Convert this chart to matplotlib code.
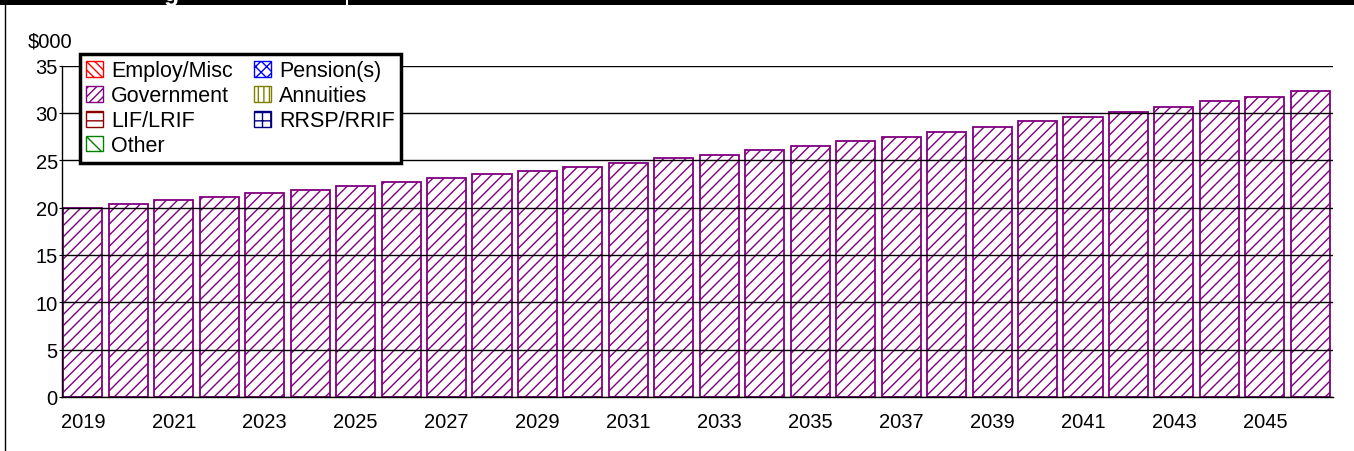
import numpy as np
import matplotlib.pyplot as plt
from matplotlib.patches import Patch, Rectangle
from matplotlib.lines import Line2D

plt.rcParams['font.family'] = ['Liberation Sans', 'DejaVu Sans']

# ---------------------------
# data ($000 per year)
# ---------------------------
years = list(range(2019, 2047))
government = [20.0, 20.4, 20.75, 21.1, 21.5, 21.9, 22.3, 22.7, 23.1, 23.5,
              23.9, 24.3, 24.7, 25.2, 25.6, 26.1, 26.5, 27.0, 27.5, 28.0,
              28.5, 29.1, 29.6, 30.1, 30.6, 31.2, 31.7, 32.3]
tick_years = [y for y in years if (y - 2019) % 2 == 0]

legend_labels = ['Employ/Misc', 'Government', 'LIF/LRIF', 'Other',
                 'Pension(s)', 'Annuities', 'RRSP/RRIF']
legend_colors = ['red', 'purple', 'darkred', 'green',
                 'blue', 'olive', 'navy']
legend_hatches = ['\\\\\\\\', '////', '--', '\\\\',
                  'xxx', '|||', '++']

W, H = 1354, 452
fig = plt.figure(figsize=(W / 100, H / 100), dpi=100)
ax = fig.add_axes([62 / W, 1 - 398 / H, (1333 - 62) / W, (398 - 66.5) / H])

x = np.arange(len(years))
ax.bar(x, government, width=0.86, color='white', edgecolor='purple',
       hatch='///', linewidth=1.3, zorder=1)

ax.set_xlim(-0.46, len(years) - 0.5)
ax.set_ylim(0, 35)
ax.set_yticks(range(0, 36, 5))
ax.set_xticks([years.index(y) for y in tick_years])
ax.set_xticklabels([str(y) for y in tick_years])
ax.tick_params(axis='x', length=0, pad=11, labelsize=14.5)
ax.tick_params(axis='y', length=2, pad=1, labelsize=14.5)

ax.yaxis.grid(True, color='black', linewidth=1)
ax.set_axisbelow(False)
for s in ['top', 'right']:
    ax.spines[s].set_visible(False)
ax.spines['left'].set_linewidth(1)
ax.spines['bottom'].set_linewidth(1)

# legend
handles = [Patch(facecolor='white', edgecolor=c, hatch=h, linewidth=1)
           for c, h in zip(legend_colors, legend_hatches)]
leg = fig.legend(handles, legend_labels, ncol=2, loc='upper left',
                 bbox_to_anchor=(80 / W, 1 - 55 / H), borderaxespad=0,
                 fontsize=15.5, frameon=True, fancybox=False, framealpha=1,
                 edgecolor='black', handlelength=0.75, handleheight=0.75,
                 handletextpad=0.4, columnspacing=1.0, labelspacing=0.18,
                 borderpad=0.3)
leg.get_frame().set_linewidth(2.5)

fig.text(28 / W, 1 - 48 / H, '$000', fontsize=14.5, va='baseline', ha='left')

# header strip and side border
fig.patches.append(Rectangle((0, 1 - 6 / H), 346 / W, 6 / H, transform=fig.transFigure,
                             facecolor='black', edgecolor='none'))
fig.patches.append(Rectangle((348 / W, 1 - 6 / H), 1 - 348 / W, 6 / H,
                             transform=fig.transFigure, facecolor='black',
                             edgecolor='none'))
fig.text(164 / W, 1 - 1 / H, 'g', color='white', fontsize=18,
         fontweight='bold', va='baseline', ha='left')
fig.lines.append(Line2D([5.5 / W, 5.5 / W], [0, 1 - 6 / H], transform=fig.transFigure,
                        color='black', linewidth=1))

fig.savefig('out.png', dpi=100)
